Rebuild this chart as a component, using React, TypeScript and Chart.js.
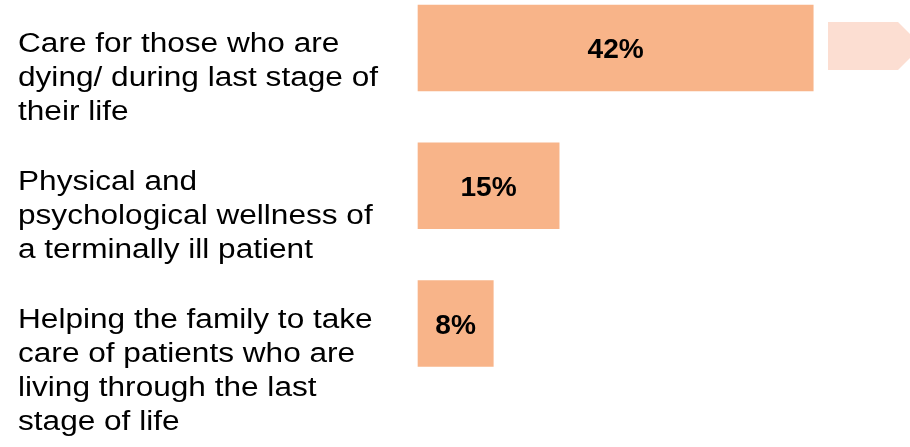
import React, { useEffect, useRef } from "react";
import { Chart, registerables } from "chart.js";

Chart.register(...registerables);

const categories: string[][] = [
  ["Care for those who are", "dying/ during last stage of", "their life"],
  ["Physical and", "psychological wellness of", "a terminally ill patient"],
  ["Helping the family to take", "care of patients who are", "living through the last", "stage of life"],
];
const values: number[] = [42, 15, 8];
const valueLabels: string[] = ["42%", "15%", "8%"];

const BAR_COLOR = "rgb(248,180,137)";
const DECOR_COLOR = "rgb(252,222,210)";
const FONT = '"Liberation Sans", Arial, Helvetica, sans-serif';

const textPlugin = {
  id: "textPlugin",
  beforeDatasetsDraw(chart: any) {
    const ctx = chart.ctx as CanvasRenderingContext2D;
    const w = chart.width;
    const yScale = chart.scales.y;
    const cy = yScale.getPixelForValue(0);
    ctx.save();
    ctx.fillStyle = DECOR_COLOR;
    ctx.beginPath();
    ctx.moveTo(w - 82, cy - 26);
    ctx.lineTo(w - 12, cy - 26);
    ctx.lineTo(w + 12, cy - 2);
    ctx.lineTo(w - 12, cy + 22);
    ctx.lineTo(w - 82, cy + 22);
    ctx.closePath();
    ctx.fill();
    ctx.restore();
  },
  afterDatasetsDraw(chart: any) {
    const ctx = chart.ctx as CanvasRenderingContext2D;
    const yScale = chart.scales.y;
    const meta = chart.getDatasetMeta(0);
    ctx.save();
    ctx.fillStyle = "#000";
    ctx.font = `27px ${FONT}`;
    ctx.textAlign = "left";
    ctx.textBaseline = "alphabetic";
    categories.forEach((lines, i) => {
      const cy = yScale.getPixelForValue(i);
      lines.forEach((line, k) => {
        ctx.save();
        ctx.translate(18, cy + 4 + k * 34);
        ctx.scale(1.17, 1);
        ctx.fillText(line, 0, 0);
        ctx.restore();
      });
    });
    ctx.font = `bold 27px ${FONT}`;
    ctx.textAlign = "center";
    meta.data.forEach((bar: any, i: number) => {
      const p = bar.getProps(["x", "y", "base"], true);
      const cx = (p.x + p.base) / 2;
      ctx.save();
      ctx.translate(cx, p.y + 10);
      ctx.scale(1.04, 1);
      ctx.fillText(valueLabels[i], 0, 0);
      ctx.restore();
    });
    ctx.restore();
  },
};

export default function App() {
  const ref = useRef<HTMLCanvasElement | null>(null);
  useEffect(() => {
    if (!ref.current) return;
    const chart = new Chart(ref.current, {
      type: "bar",
      data: {
        labels: categories.map((c) => c.join(" ")),
        datasets: [
          {
            data: values,
            backgroundColor: BAR_COLOR,
            borderWidth: 0,
            barThickness: 86,
            clip: false as any,
          },
        ],
      },
      options: {
        indexAxis: "y",
        animation: false,
        responsive: false,
        devicePixelRatio: 1,
        layout: { padding: { left: 418, right: 21.5, top: 48, bottom: 123.5 } },
        plugins: { legend: { display: false }, tooltip: { enabled: false } },
        scales: {
          x: { display: false, min: 0, max: 50 },
          y: { display: false, offset: false },
        },
      },
      plugins: [textPlugin],
    });
    return () => chart.destroy();
  }, []);
  return (
    <div style={{ position: "fixed", left: 0, top: 0, width: 910, height: 447, background: "#fff" }}>
      <canvas ref={ref} width={910} height={447} style={{ display: "block" }} />
    </div>
  );
}
